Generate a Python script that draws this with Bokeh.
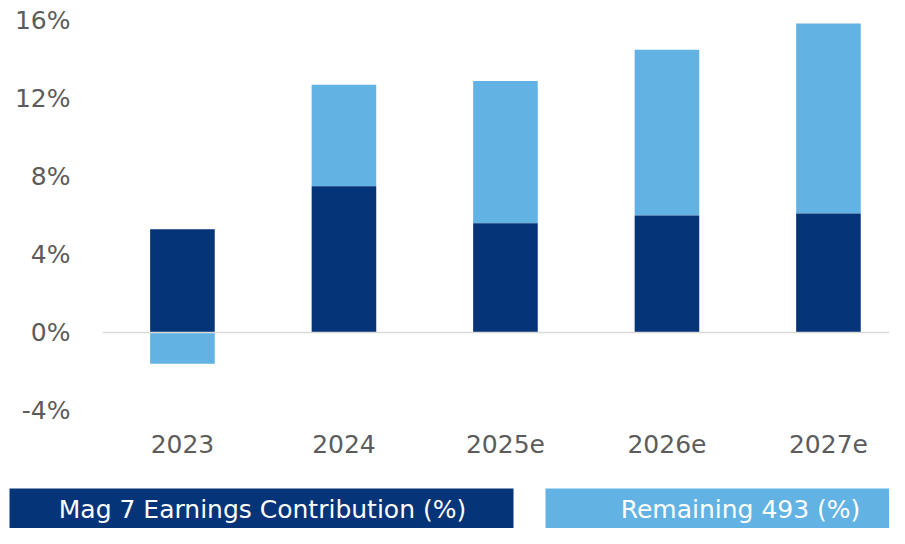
import numpy as np
from bokeh.plotting import figure
from bokeh.models import Range1d, FixedTicker, Span, ColumnDataSource
from bokeh.layouts import column
from bokeh.core.properties import value
from bokeh.embed import file_html
from bokeh.resources import INLINE

categories = ["2023", "2024", "2025e", "2026e", "2027e"]
mag7 = [5.3, 7.5, 5.6, 6.0, 6.1]
remaining = [-1.6, 5.2, 7.3, 8.5, 9.75]
y_ticks = [-4, 0, 4, 8, 12, 16]
y_tick_labels = ["-4%", "0%", "4%", "8%", "12%", "16%"]
series_names = ["Mag 7 Earnings Contribution (%)", "Remaining 493 (%)"]

DARK = "#063478"
LIGHT = "#62B3E4"
GRAY = "#5c5c5c"
FONT = "DejaVu Sans"

W = 889
x = np.arange(len(categories))
m = np.array(mag7)
r = np.array(remaining)
r_bottom = np.where(r >= 0, m, 0.0)
r_top = np.where(r >= 0, m + r, r)

src = ColumnDataSource(dict(x=x, m=m, zero=np.zeros_like(m), rb=r_bottom, rt=r_top))

p = figure(width=W, height=478, output_backend="svg", toolbar_location=None,
           x_range=Range1d(-0.495, 4.378), y_range=Range1d(-4, 16),
           min_border_left=102, min_border_right=0, min_border_top=20, min_border_bottom=68)
p.frame_align = False
p.outline_line_color = None
p.grid.visible = False

p.vbar(x="x", bottom="rb", top="rt", width=0.4, source=src, fill_color=LIGHT, line_color=None)
p.vbar(x="x", bottom="zero", top="m", width=0.4, source=src, fill_color=DARK, line_color=None)
p.add_layout(Span(location=0, dimension="width", line_color="#d9d9d9", line_width=1.5))

p.yaxis.ticker = FixedTicker(ticks=y_ticks)
p.yaxis.major_label_overrides = {t: l for t, l in zip(y_ticks, y_tick_labels)}
p.xaxis.ticker = FixedTicker(ticks=list(x))
p.xaxis.major_label_overrides = {int(i): c for i, c in zip(x, categories)}
for ax in (p.xaxis, p.yaxis):
    ax.axis_line_color = None
    ax.major_tick_line_color = None
    ax.minor_tick_line_color = None
    ax.major_label_text_font = FONT
    ax.major_label_text_font_size = "25px"
    ax.major_label_text_color = GRAY
p.yaxis.major_label_standoff = 26
p.xaxis.major_label_standoff = 18

lg = figure(width=W, height=50, output_backend="svg", toolbar_location=None,
            x_range=Range1d(0, W), y_range=Range1d(0, 50),
            min_border=0)
lg.frame_align = False
lg.outline_line_color = None
lg.grid.visible = False
lg.axis.visible = False
box_l = [9, 545]
box_r = [513, W]
text_x = [262, 740]
lg.quad(left=box_l, right=box_r, bottom=[0, 0], top=[40, 40],
        fill_color=[DARK, LIGHT], line_color=None)
lg.text(x=text_x, y=[19, 19], text=series_names,
        text_align="center", text_baseline="middle", text_color="white",
        text_font=value(FONT), text_font_size="25px")

layout = column(p, lg, spacing=0)
open("out.html", "w").write(file_html(layout, INLINE))
